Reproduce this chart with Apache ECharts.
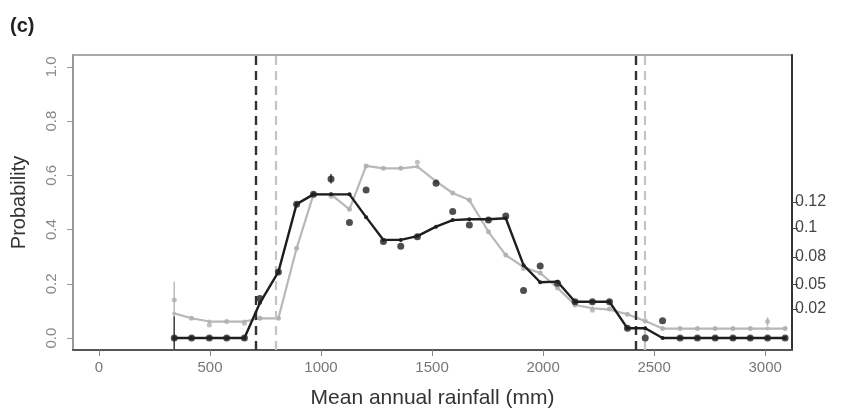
<!DOCTYPE html>
<html><head><meta charset="utf-8">
<script src="https://cdn.jsdelivr.net/npm/echarts@6/dist/echarts.min.js"></script>
<style>html,body{margin:0;padding:0;background:#fff}#c{width:844px;height:416px}</style>
</head><body><div id="c"></div>
<script>
var xBins = [339,417,497,575,655,725,808,890,966,1045,1128,1203,1281,1359,1434,1518,1593,1668,1754,1832,1912,1987,2065,2144,2222,2299,2380,2460,2538,2617,2695,2775,2855,2933,3011,3090];
var blackObs = [0,0,0,0,0,0.146,0.244,0.494,0.53,0.587,0.426,0.546,0.356,0.339,0.374,0.571,0.467,0.417,0.435,0.45,0.175,0.266,0.202,0.134,0.134,0.134,0.036,0,0.064,0,0,0,0,0,0,0];
var blackFit = [0,0,0,0,0,0.13,0.244,0.494,0.53,0.53,0.53,0.446,0.362,0.362,0.376,0.411,0.435,0.438,0.438,0.442,0.269,0.206,0.208,0.134,0.134,0.134,0.036,0.036,0,0,0,0,0,0,0,0];
var greyObs = [0.14,0.073,0.048,0.061,0.055,0.073,0.073,0.331,0.53,0.523,0.475,0.635,0.626,0.626,0.648,0.578,0.535,0.509,0.392,0.306,0.257,0.24,0.185,0.122,0.103,0.108,0.088,0.063,0.035,0.035,0.035,0.035,0.035,0.035,0.061,0.035];
var greyFit = [0.091,0.073,0.061,0.061,0.061,0.073,0.073,0.331,0.53,0.53,0.475,0.635,0.626,0.626,0.632,0.578,0.535,0.509,0.392,0.306,0.262,0.24,0.185,0.122,0.11,0.105,0.088,0.063,0.035,0.035,0.035,0.035,0.035,0.035,0.035,0.035];
var greyErrX = [339, 3011];
var greyErrLo = [-0.05, 0.045];
var greyErrHi = [0.208, 0.077];
var blackErrX = [339, 1045];
var blackErrLo = [-0.05, 0.57];
var blackErrHi = [0.08, 0.605];
var blackCut = [707, 2418];
var greyCut = [797, 2457];
var xTicks = [0,500,1000,1500,2000,2500,3000];
var yTicks = [0,0.2,0.4,0.6,0.8,1.0];
var rightTickPos = [0.107,0.199,0.299,0.406,0.502];
var rightTickLabels = ['0.02','0.05','0.08','0.1','0.12'];

function zip(a,b){return a.map(function(v,i){return [v,b[i]];});}
function errData(xs,lo,hi){return xs.map(function(v,i){return [v,lo[i],hi[i]];});}
function errRender(color,w){
  return function(params,api){
    var p1 = api.coord([api.value(0),api.value(1)]);
    var p2 = api.coord([api.value(0),api.value(2)]);
    var cs = params.coordSys;
    return {type:'line',shape:{x1:p1[0],y1:Math.min(p1[1],cs.y+cs.height),x2:p2[0],y2:Math.max(p2[1],cs.y)},
      style:{stroke:color,lineWidth:w}};
  };
}
var chart = echarts.init(document.getElementById('c'));
var font = 'Liberation Sans, Arial, sans-serif';
chart.setOption({
  animation:false,
  textStyle:{fontFamily:font},
  grid:{left:73,right:52,top:55,bottom:66,show:true,borderColor:'#aaa',borderWidth:2},
  graphic:[{type:'text',left:10,top:16,style:{text:'(c)',font:'bold 20px '+font,fill:'#222'}}],
  xAxis:{type:'value',min:-117,max:3121,
    name:'Mean annual rainfall (mm)',nameLocation:'middle',nameGap:38,
    nameTextStyle:{fontSize:21,color:'#333',fontFamily:font},
    axisLine:{show:true,onZero:false,lineStyle:{color:'#555',width:2}},
    axisTick:{show:true,length:6,lineStyle:{color:'#888'},customValues:xTicks},
    axisLabel:{color:'#777',fontSize:15,margin:10,customValues:xTicks,
      formatter:function(v){return String(v);}},
    splitLine:{show:false}},
  yAxis:[{type:'value',min:-0.044,max:1.044,
    name:'Probability',nameLocation:'middle',nameGap:44,
    nameTextStyle:{fontSize:20,color:'#333',fontFamily:font},
    axisLine:{show:true,onZero:false,lineStyle:{color:'#999',width:2}},
    axisTick:{show:true,length:6,lineStyle:{color:'#999'},customValues:yTicks},
    axisLabel:{color:'#888',fontSize:15,rotate:90,margin:14,customValues:yTicks,
      formatter:function(v){return v.toFixed(1);}},
    splitLine:{show:false}},
   {type:'value',min:-0.044,max:1.044,position:'right',
    axisLine:{show:true,onZero:false,lineStyle:{color:'#333',width:2}},
    axisTick:{show:true,length:6,lineStyle:{color:'#444'},customValues:rightTickPos},
    axisLabel:{color:'#444',fontSize:16,margin:3,customValues:rightTickPos,
      formatter:function(v){var i=rightTickPos.indexOf(v);return i>=0?rightTickLabels[i]:'';}},
    splitLine:{show:false}}],
  series:[
    {type:'custom',renderItem:errRender('#bbb',1.5),data:errData(greyErrX,greyErrLo,greyErrHi),z:1},
    {type:'line',data:zip(xBins,greyFit),symbol:'circle',symbolSize:4,
      lineStyle:{color:'#b8b8b8',width:2.2},itemStyle:{color:'#b8b8b8'},z:2,
      markLine:{silent:true,symbol:'none',label:{show:false},
        lineStyle:{color:'#c4c4c4',width:2.2,type:[9,6]},
        data:greyCut.map(function(v){return {xAxis:v};})}},
    {type:'scatter',data:zip(xBins,greyObs),symbol:'circle',symbolSize:5,itemStyle:{color:'#b0b0b0'},z:3},
    {type:'custom',renderItem:errRender('#444',1.5),data:errData(blackErrX,blackErrLo,blackErrHi),z:4},
    {type:'line',data:zip(xBins,blackFit),symbol:'circle',symbolSize:4,
      lineStyle:{color:'#1e1e1e',width:2.4},itemStyle:{color:'#1e1e1e'},z:5,
      markLine:{silent:true,symbol:'none',label:{show:false},
        lineStyle:{color:'#333',width:2.4,type:[9,6]},
        data:blackCut.map(function(v){return {xAxis:v};})}},
    {type:'scatter',data:zip(xBins,blackObs),symbol:'circle',symbolSize:7,itemStyle:{color:'#222'},z:6}
  ]
});
</script></body></html>
